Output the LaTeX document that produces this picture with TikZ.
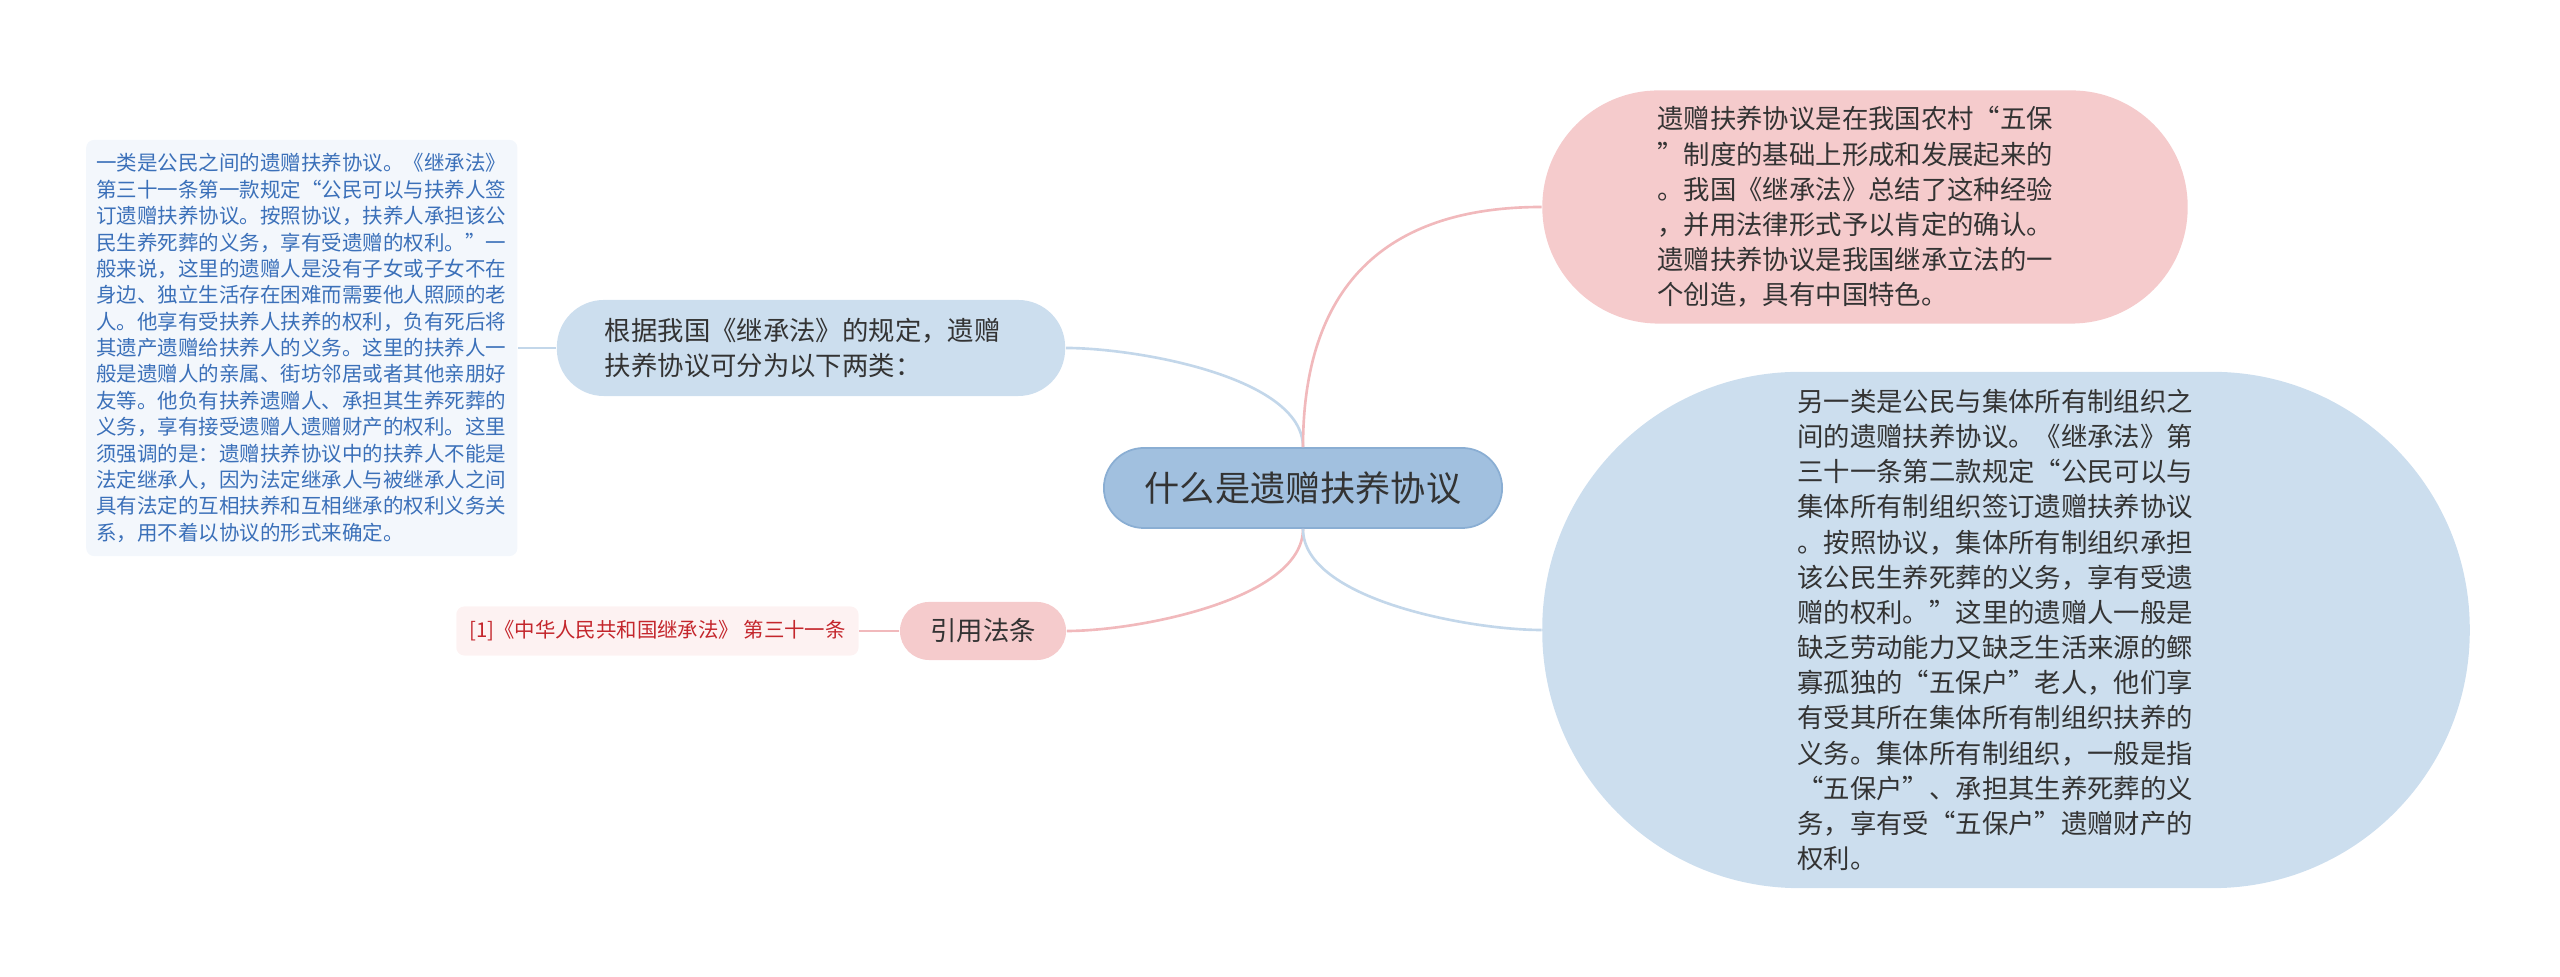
\documentclass[tikz,border=0pt]{standalone}
\usepackage{fontspec}
\setmainfont{Noto Sans CJK SC}
\usetikzlibrary{positioning}
\definecolor{topicfill}{HTML}{A1C0DF}
\definecolor{topicline}{HTML}{8AAED3}
\definecolor{bluefill}{HTML}{CCDEEE}
\definecolor{pinkfill}{HTML}{F5CBCC}
\definecolor{blueline}{HTML}{C3D7EA}
\definecolor{pinkline}{HTML}{F1B9BC}
\definecolor{notefill}{HTML}{F3F7FC}
\definecolor{notetext}{HTML}{3B70B9}
\definecolor{citefill}{HTML}{FDF2F2}
\definecolor{citetext}{HTML}{C4262C}
\definecolor{darktext}{HTML}{333333}
\tikzset{
  topicbox/.style={fill=topicfill, draw=topicline, line width=0.5pt, align=center, inner sep=0pt, text=darktext, font=\fontsize{10pt}{12pt}\selectfont},
  bluebox/.style={fill=bluefill, align=left, inner sep=0pt, text=darktext, font=\fontsize{7.5pt}{10pt}\selectfont},
  pinkbox/.style={fill=pinkfill, align=left, inner sep=0pt, text=darktext, font=\fontsize{7.5pt}{10pt}\selectfont},
  notebox/.style={fill=notefill, rounded corners=0.08cm, align=left, inner sep=0pt, text=notetext, font=\fontsize{5.83pt}{7.5pt}\selectfont},
  citebox/.style={fill=citefill, rounded corners=0.08cm, align=center, inner sep=0pt, text=citetext, font=\fontsize{5.8pt}{7pt}\selectfont},
  blueedge/.style={draw=blueline, line width=0.75pt},
  pinkedge/.style={draw=pinkline, line width=0.75pt}
}
\begin{document}
\begin{tikzpicture}[x=0.01cm, y=-0.01cm]
\useasboundingbox (0,0) rectangle (2560,977);
% central topic
\node[topicbox, minimum width=3.98cm, minimum height=0.8cm, rounded corners=0.4cm] (topic) at (1303,488) {什么是遗赠扶养协议};
% left branch
\node[bluebox, minimum width=5.08cm, minimum height=0.96cm, rounded corners=0.47cm, text width=4.12cm] (basis) at (811,348)
  {根据我国《继承法》的规定，遗赠\\扶养协议可分为以下两类：};
\node[notebox, left=0.38cm of basis, minimum width=4.31cm, minimum height=4.16cm, text width=4.11cm] (kinds1)
  {一类是公民之间的遗赠扶养协议。《继承法》\\第三十一条第一款规定“公民可以与扶养人签\\订遗赠扶养协议。按照协议，扶养人承担该公\\民生养死葬的义务，享有受遗赠的权利。”一\\般来说，这里的遗赠人是没有子女或子女不在\\身边、独立生活存在困难而需要他人照顾的老\\人。他享有受扶养人扶养的权利，负有死后将\\其遗产遗赠给扶养人的义务。这里的扶养人一\\般是遗赠人的亲属、街坊邻居或者其他亲朋好\\友等。他负有扶养遗赠人、承担其生养死葬的\\义务，享有接受遗赠人遗赠财产的权利。这里\\须强调的是：遗赠扶养协议中的扶养人不能是\\法定继承人，因为法定继承人与被继承人之间\\具有法定的互相扶养和互相继承的权利义务关\\系，用不着以协议的形式来确定。};
\node[pinkbox, align=center, minimum width=1.66cm, minimum height=0.58cm, rounded corners=0.29cm] (cite) at (983,631) {引用法条};
\node[citebox, left=0.4cm of cite, minimum width=4.02cm, minimum height=0.49cm] (citeref)
  {[1]《中华人民共和国继承法》 第三十一条};
% right branch
\node[pinkbox, minimum width=6.45cm, minimum height=2.33cm, rounded corners=1.16cm, text width=4.15cm] (rural) at (1865,207)
  {遗赠扶养协议是在我国农村“五保\\”制度的基础上形成和发展起来的\\。我国《继承法》总结了这种经验\\，并用法律形式予以肯定的确认。\\遗赠扶养协议是我国继承立法的一\\个创造，具有中国特色。};
\node[bluebox, minimum width=9.27cm, minimum height=5.16cm, rounded corners=2.57cm, text width=4.17cm] (kinds2) at (2006,630)
  {另一类是公民与集体所有制组织之\\间的遗赠扶养协议。《继承法》第\\三十一条第二款规定“公民可以与\\集体所有制组织签订遗赠扶养协议\\。按照协议，集体所有制组织承担\\该公民生养死葬的义务，享有受遗\\赠的权利。”这里的遗赠人一般是\\缺乏劳动能力又缺乏生活来源的鳏\\寡孤独的“五保户”老人，他们享\\有受其所在集体所有制组织扶养的\\义务。集体所有制组织，一般是指\\“五保户”、承担其生养死葬的义\\务，享有受“五保户”遗赠财产的\\权利。};
% connectors
\draw[blueedge] (topic.north) to[out=90, in=0, looseness=0.7] (basis.east);
\draw[pinkedge] (topic.north) to[out=90, in=180, looseness=1.2] (rural.west);
\draw[pinkedge] (topic.south) to[out=270, in=0, looseness=0.7] (cite.east);
\draw[blueedge] (topic.south) to[out=270, in=180, looseness=0.7] (kinds2.west);
\draw[blueedge] (basis.west) -- (kinds1.east);
\draw[pinkedge] (cite.west) -- (citeref.east);
\end{tikzpicture}
\end{document}
